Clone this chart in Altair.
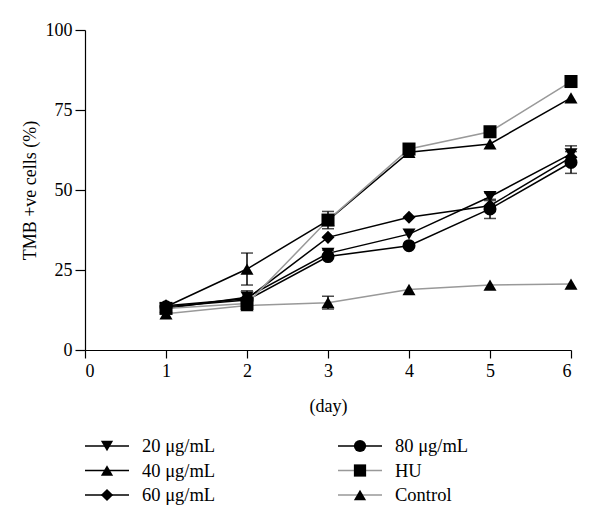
import altair as alt
import pandas as pd

days = [1, 2, 3, 4, 5, 6]
series = ["20 μg/mL", "40 μg/mL", "60 μg/mL", "80 μg/mL", "HU", "Control"]
shapes = ["triangle-down", "triangle-up", "diamond", "circle", "square", "triangle-up"]
colors = ["#000000", "#000000", "#000000", "#000000", "#999999", "#999999"]

v20 = [13.0, 16.5, 30.2, 36.2, 47.9, 61.3]
v40 = [13.5, 25.3, 40.5, 61.8, 64.4, 78.8]
v60 = [13.8, 16.0, 35.2, 41.5, 45.1, 60.2]
v80 = [13.5, 15.6, 29.2, 32.6, 44.1, 58.6]
vHU = [13.0, 14.5, 40.6, 62.8, 68.2, 83.9]
vCt = [11.3, 13.9, 14.8, 18.9, 20.3, 20.6]

e20 = [0, 2.0, 1.0, 0, 1.2, 2.5]
e40 = [0, 5.0, 0, 0, 0, 0]
e60 = [0, 0, 0, 0, 0, 0]
e80 = [0, 0, 0, 0, 3.0, 3.4]
eHU = [0, 0, 2.7, 0, 0, 0]
eCt = [0, 0, 2.0, 0, 0, 0]

values = [v20, v40, v60, v80, vHU, vCt]
errors = [e20, e40, e60, e80, eHU, eCt]

rows = []
for i, name in enumerate(series):
    for d, v, e in zip(days, values[i], errors[i]):
        rows.append({"series": name, "order": i, "day": d, "value": v, "err": e,
                     "lo": v - e, "hi": v + e, "shape": shapes[i], "color": colors[i]})
df = pd.DataFrame(rows)
df_err = df[df["err"] > 0]

FONT = "Liberation Serif"

x_scale = alt.Scale(domain=[0, 6], nice=False, zero=False)
y_scale = alt.Scale(domain=[0, 100], nice=False)

base = alt.Chart(df)

lines = base.mark_line(strokeWidth=1.5).encode(
    x=alt.X("day:Q", scale=x_scale,
            axis=alt.Axis(values=[0, 1, 2, 3, 4, 5, 6], title="(day)", tickSize=8,
                          labelPadding=4, titlePadding=17, format="d")),
    y=alt.Y("value:Q", scale=y_scale,
            axis=alt.Axis(values=[0, 25, 50, 75, 100], title="TMB +ve cells (%)",
                          tickSize=10, labelPadding=3, titlePadding=6)),
    detail="series:N",
    color=alt.Color("color:N", scale=None),
    order="day:Q",
)

err_rule = alt.Chart(df_err).mark_rule(strokeWidth=1.5, color="black").encode(
    x="day:Q", y="lo:Q", y2="hi:Q"
)
err_cap_hi = alt.Chart(df_err).mark_tick(orient="horizontal", size=12, thickness=1.5,
                                         color="black").encode(x="day:Q", y="hi:Q")
err_cap_lo = alt.Chart(df_err).mark_tick(orient="horizontal", size=12, thickness=1.5,
                                         color="black").encode(x="day:Q", y="lo:Q")

points = base.mark_point(filled=True, opacity=1, color="black", size=170).encode(
    x="day:Q", y="value:Q",
    shape=alt.Shape("shape:N", scale=None),
)

# custom legend (two columns below the plot)
leg_rows = []
for i, name in enumerate(series):
    col, row = i // 3, i % 3
    x0 = col * 253
    y0 = 416 + row * 24.5
    leg_rows.append({"series": name, "x0": x0, "x1": x0 + 44, "xm": x0 + 22,
                     "xt": x0 + 57, "y": y0, "shape": shapes[i], "color": colors[i]})
leg = pd.DataFrame(leg_rows)

leg_lines = alt.Chart(leg).mark_rule(strokeWidth=1.5).encode(
    x=alt.X("x0:Q", scale=None, axis=None), x2="x1:Q",
    y=alt.Y("y:Q", scale=None, axis=None),
    color=alt.Color("color:N", scale=None),
)
leg_pts = alt.Chart(leg).mark_point(filled=True, opacity=1, color="black", size=150).encode(
    x=alt.X("xm:Q", scale=None, axis=None),
    y=alt.Y("y:Q", scale=None, axis=None),
    shape=alt.Shape("shape:N", scale=None),
)
leg_text = alt.Chart(leg).mark_text(align="left", baseline="middle", font=FONT,
                                    fontSize=18.5, color="black").encode(
    x=alt.X("xt:Q", scale=None, axis=None),
    y=alt.Y("y:Q", scale=None, axis=None),
    text="series:N",
)

chart = alt.layer(lines, err_rule, err_cap_hi, err_cap_lo, points,
                  leg_lines, leg_pts, leg_text).properties(
    width=486, height=320,
    autosize=alt.AutoSizeParams(type="none"),
    padding={"left": 77, "top": 22, "right": 20, "bottom": 175},
).configure_view(stroke=None).configure_axis(
    grid=False, domainColor="black", tickColor="black", labelColor="black",
    titleColor="black", labelFont=FONT, titleFont=FONT, labelFontSize=18,
    titleFontSize=18, titleFontWeight="normal", domainWidth=1.2, tickWidth=1.2,
)

chart.save("out.html", embed_options={"renderer": "svg", "actions": False})
